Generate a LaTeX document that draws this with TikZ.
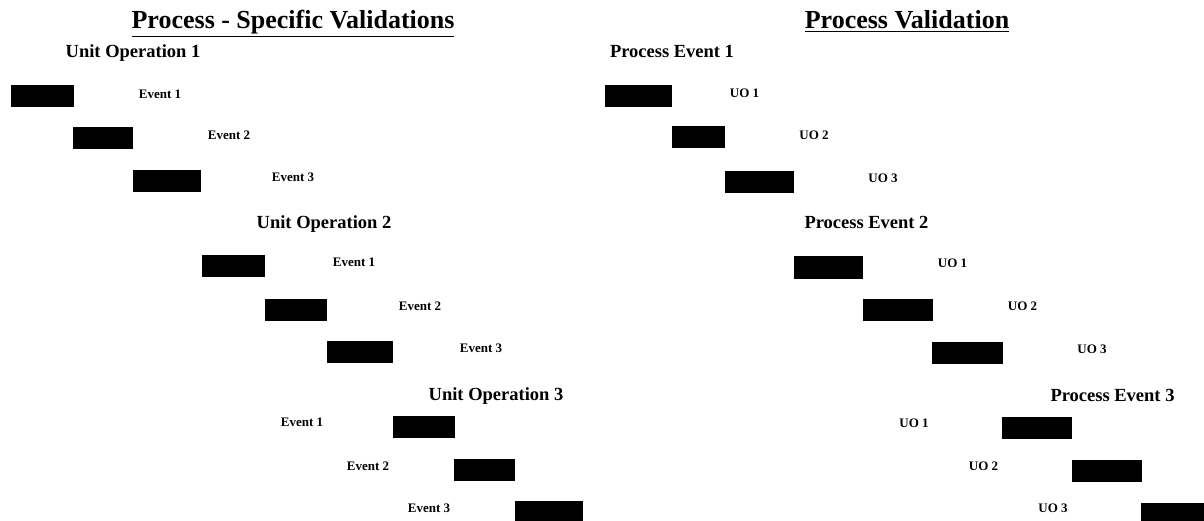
\documentclass[tikz,border=0pt]{standalone}
\usepackage{fontspec}
\setmainfont{Liberation Serif}
\begin{document}
\begin{tikzpicture}[x=1pt,y=-1pt,
  bar/.style={fill=black,draw=none,inner sep=0pt,minimum height=22pt},
  ttl/.style={font=\fontsize{26}{30}\selectfont\bfseries,inner sep=0pt,anchor=base},
  hd/.style={font=\fontsize{18.5}{22}\selectfont\bfseries,inner sep=0pt,anchor=base},
  lab/.style={font=\fontsize{13}{15}\selectfont\bfseries,inner sep=0pt,anchor=base}]
\clip (0,0) rectangle (1204,521);
\fill[white] (0,0) rectangle (1204,521);
% ---------------- left panel ----------------
\node[ttl] (lt) at (293,29) {\underline{Process - Specific Validations}};
\node[hd] (uo1) at (133,58) {Unit Operation 1};
\node[bar,minimum width=63pt] (lb1) at (42.5,96) {};
\node[lab] (le1) at (160,98.3) {Event 1};
\node[bar,minimum width=60pt] (lb2) at (103,138) {};
\node[lab] (le2) at (229,139.3) {Event 2};
\node[bar,minimum width=68pt] (lb3) at (167,181) {};
\node[lab] (le3) at (293,181.3) {Event 3};
\node[hd] (uo2) at (324,229) {Unit Operation 2};
\node[bar,minimum width=63pt] (lb4) at (233.5,266.5) {};
\node[lab] (le4) at (354,266.3) {Event 1};
\node[bar,minimum width=62pt] (lb5) at (296,309.5) {};
\node[lab] (le5) at (420,310.3) {Event 2};
\node[bar,minimum width=66pt] (lb6) at (360,352) {};
\node[lab] (le6) at (481,352.3) {Event 3};
\node[hd] (uo3) at (496,400) {Unit Operation 3};
\node[lab] (le7) at (302,426.3) {Event 1};
\node[bar,minimum width=62pt] (lb7) at (424,426.5) {};
\node[lab] (le8) at (368,470.3) {Event 2};
\node[bar,minimum width=61pt] (lb8) at (484.5,469.5) {};
\node[lab] (le9) at (429,512.3) {Event 3};
\node[bar,minimum width=68pt] (lb9) at (549,512) {};
% ---------------- right panel ----------------
\node[ttl] (rt) at (907,29) {\underline{Process Validation}};
\node[hd] (pe1) at (672,58) {Process Event 1};
\node[bar,minimum width=67pt] (rb1) at (638.5,96) {};
\node[lab] (ru1) at (744.5,97.3) {UO 1};
\node[bar,minimum width=53pt] (rb2) at (698.5,137.5) {};
\node[lab] (ru2) at (814,139.3) {UO 2};
\node[bar,minimum width=69pt] (rb3) at (759.5,182) {};
\node[lab] (ru3) at (883,182.3) {UO 3};
\node[hd] (pe2) at (866.5,229) {Process Event 2};
\node[bar,minimum width=69pt] (rb4) at (828.5,267.5) {};
\node[lab] (ru4) at (952.5,267.3) {UO 1};
\node[bar,minimum width=70pt] (rb5) at (898,309.5) {};
\node[lab] (ru5) at (1022.5,310.3) {UO 2};
\node[bar,minimum width=71pt] (rb6) at (967.5,353) {};
\node[lab] (ru6) at (1092,353.3) {UO 3};
\node[hd] (pe3) at (1112.5,401) {Process Event 3};
\node[lab] (ru7) at (914,427.3) {UO 1};
\node[bar,minimum width=70pt] (rb7) at (1037,427.5) {};
\node[lab] (ru8) at (983.5,470.3) {UO 2};
\node[bar,minimum width=70pt] (rb8) at (1107,471) {};
\node[lab] (ru9) at (1053,512.3) {UO 3};
\node[bar,minimum width=70pt] (rb9) at (1176,514) {};
\end{tikzpicture}
\end{document}
